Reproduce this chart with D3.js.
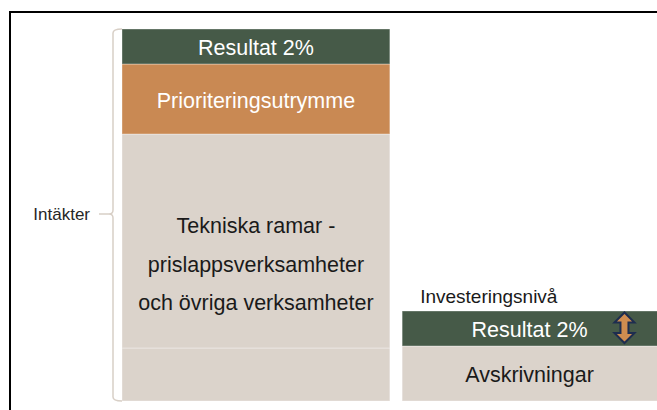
<!DOCTYPE html>
<html>
<head>
<meta charset="utf-8">
<script src="https://cdn.jsdelivr.net/npm/d3@7"></script>
<style>
  html, body { margin: 0; padding: 0; background: #fff; }
  svg { display: block; font-family: "Liberation Sans", Arial, sans-serif; }
</style>
</head>
<body>
<svg id="chart" width="657" height="410"></svg>
<script>
(function () {
    'use strict';

    // two stacked columns
    var categories = ['Intäkter', 'Investeringsnivå'];

    // left column, bottom -> top ('' = part of the label above it)
    var leftLabels = ['', 'Tekniska ramar -\nprislappsverksamheter\noch övriga verksamheter', 'Prioriteringsutrymme', 'Resultat 2%'];
    var leftValues = [53, 214, 70, 35];
    var leftColors = ['#dbd3cb', '#dbd3cb', '#c98953', '#465a48'];

    // right column, bottom -> top
    var rightLabels = ['Avskrivningar', 'Resultat 2%'];
    var rightValues = [55, 35];
    var rightColors = ['#dbd3cb', '#465a48'];

    var W = 657, H = 410;
    var svg = d3.select('#chart');

    // frame (right and bottom edges fall outside the picture)
    svg.append('rect')
        .attr('x', 10).attr('y', 12)
        .attr('width', W + 40).attr('height', H + 40)
        .style('fill', 'none')
        .style('stroke', '#000')
        .style('stroke-width', 2);

    var x = d3.scaleBand()
        .domain(categories)
        .range([122, 670])
        .paddingInner(0.0438);

    var y = d3.scaleLinear()
        .domain([0, d3.sum(leftValues)])
        .range([401, 29]);

    function stack(values, labels, colors) {
        var acc = 0, out = [];
        values.forEach(function (v, i) {
            out.push({ y0: acc, y1: acc + v, label: labels[i], color: colors[i] });
            acc += v;
        });
        // a label also covers the unlabelled segment just below it
        out.forEach(function (d, i) {
            d.ly0 = (i > 0 && out[i - 1].label === '') ? out[i - 1].y0 : d.y0;
        });
        return out;
    }

    var columns = [
        { cat: categories[0], segs: stack(leftValues, leftLabels, leftColors) },
        { cat: categories[1], segs: stack(rightValues, rightLabels, rightColors) }
    ];

    var col = svg.selectAll('g.col')
        .data(columns)
        .enter().append('g')
        .attr('class', 'col');

    col.selectAll('rect')
        .data(function (c) { return c.segs.map(function (s) { s.cat = c.cat; return s; }); })
        .enter().append('rect')
        .attr('x', function (d) { return x(d.cat); })
        .attr('y', function (d) { return y(d.y1); })
        .attr('width', x.bandwidth())
        .attr('height', function (d) { return y(d.y0) - y(d.y1); })
        .style('fill', function (d) { return d.color; })
        .style('stroke', 'rgba(255,255,255,0.35)')
        .style('stroke-width', 1);

    // labels, centred on the visible part of the column
    col.selectAll('text.seg')
        .data(function (c) { return c.segs.filter(function (s) { return s.label !== ''; }); })
        .enter().append('text')
        .attr('class', 'seg')
        .attr('text-anchor', 'middle')
        .style('font-size', '21.5px')
        .style('fill', function (d) { return d.color === '#dbd3cb' ? '#1a1a1a' : '#fff'; })
        .each(function (d) {
            var lines = d.label.split('\n'),
                cx = (x(d.cat) + Math.min(x(d.cat) + x.bandwidth(), W)) / 2,
                cy = (y(d.ly0) + y(d.y1)) / 2,
                lh = 38.5,
                off = lines.length > 1 ? 4 : 8.5,
                t = d3.select(this);
            lines.forEach(function (s, i) {
                t.append('tspan')
                    .attr('x', cx)
                    .attr('y', cy + (i - (lines.length - 1) / 2) * lh + off)
                    .text(s);
            });
        });

    // category label of the right column
    svg.append('text')
        .attr('x', x(categories[1]) + 18)
        .attr('y', y(d3.sum(rightValues)) - 8.5)
        .style('font-size', '19px')
        .style('fill', '#1a1a1a')
        .text(categories[1]);

    // brace for the left column
    var bx = x(categories[0]) - 9,
        top = y(d3.sum(leftValues)),
        bot = y(0),
        mid = 214,
        brace = d3.path();
    brace.moveTo(bx + 9, top);
    brace.quadraticCurveTo(bx, top, bx, top + 4);
    brace.lineTo(bx, mid - 4);
    brace.quadraticCurveTo(bx, mid, bx - 4, mid);
    brace.lineTo(bx - 14, mid);
    brace.moveTo(bx - 4, mid);
    brace.quadraticCurveTo(bx, mid, bx, mid + 4);
    brace.lineTo(bx, bot - 4);
    brace.quadraticCurveTo(bx, bot, bx + 9, bot);

    svg.append('path')
        .attr('d', brace.toString())
        .style('fill', 'none')
        .style('stroke', '#d8cfc6')
        .style('stroke-width', 1.5);

    svg.append('text')
        .attr('x', bx - 23)
        .attr('y', mid + 6)
        .attr('text-anchor', 'end')
        .style('font-size', '17px')
        .style('fill', '#262626')
        .text(categories[0]);

    // double arrow in the right "Resultat" segment
    var ax = x(categories[1]) + x.bandwidth() * 0.83,
        at = y(d3.sum(rightValues)) + 1.5,
        ab = y(rightValues[0]) - 3,
        hw = 10, sw = 4, hh = 10;
    var arrow = [
        [ax, at], [ax + hw, at + hh], [ax + sw, at + hh], [ax + sw, ab - hh],
        [ax + hw, ab - hh], [ax, ab], [ax - hw, ab - hh], [ax - sw, ab - hh],
        [ax - sw, at + hh], [ax - hw, at + hh]
    ];
    svg.append('path')
        .attr('d', d3.line()(arrow) + 'Z')
        .style('fill', '#cf8c50')
        .style('stroke', '#1e2d4f')
        .style('stroke-width', 2)
        .style('stroke-linejoin', 'miter');

}());
</script>
</body>
</html>
